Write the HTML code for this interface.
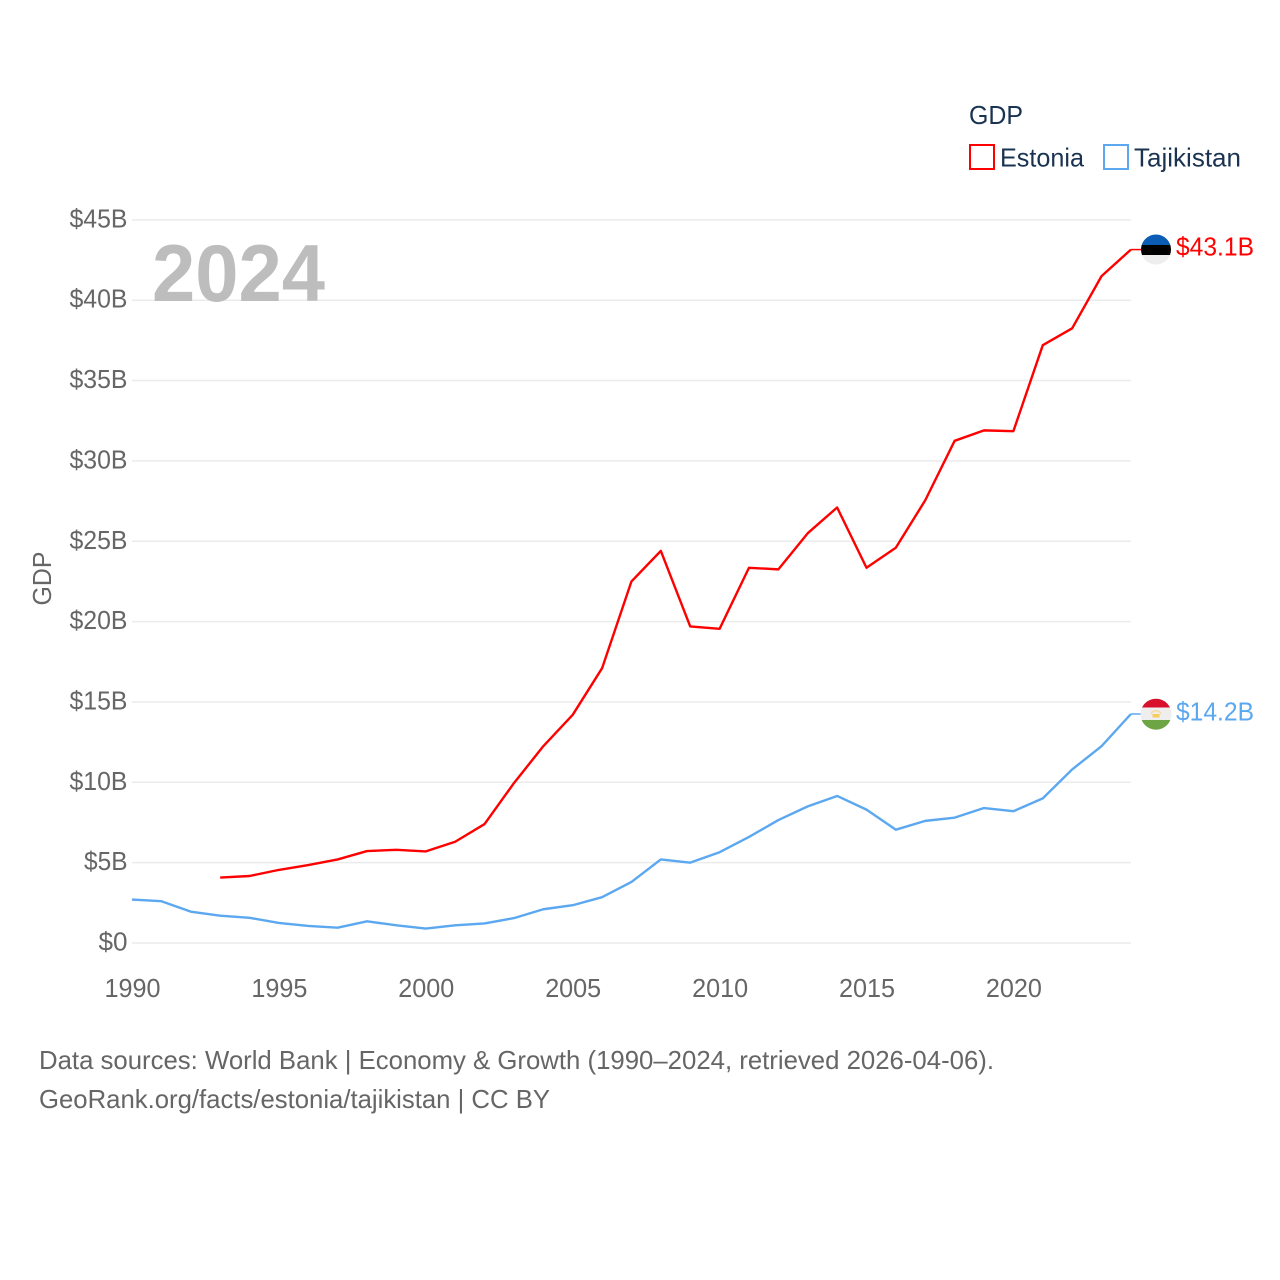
<!DOCTYPE html>
<html lang="en">
<head>
<meta charset="utf-8">
<title>GDP: Estonia and Tajikistan</title>
<style>
html,body{margin:0;padding:0;background:#fff;}
svg{display:block;font-family:"Liberation Sans",sans-serif;}
</style>
</head>
<body>
<svg id="chart" width="1280" height="1280" viewBox="0 0 1280 1280" xmlns="http://www.w3.org/2000/svg">
  <defs>
    <clipPath id="clip-ee"><circle cx="1156" cy="249.5" r="15"/></clipPath>
    <clipPath id="clip-tj"><circle cx="1156" cy="714.2" r="15.5"/></clipPath>
  </defs>
  <rect width="1280" height="1280" fill="#fff"/>
  <g id="grid"></g>
  <g id="y-ticks"></g>
  <g id="x-ticks"></g>
  <text x="152" y="301" font-size="81" font-weight="700" fill="#bdbdbd" textLength="173" lengthAdjust="spacingAndGlyphs">2024</text>
  <text transform="translate(51,578.5) rotate(-90)" text-anchor="middle" font-size="26" fill="#666" textLength="54" lengthAdjust="spacingAndGlyphs">GDP</text>
  <path id="line-estonia" fill="none" stroke="#ff0000" stroke-width="2.4" stroke-linejoin="round"></path>
  <path id="line-tajikistan" fill="none" stroke="#5ba8f0" stroke-width="2.4" stroke-linejoin="round"></path>
  <line id="lead-estonia" stroke="#ff0000" stroke-width="1.5"></line>
  <line id="lead-tajikistan" stroke="#5ba8f0" stroke-width="1.5"></line>

  <g clip-path="url(#clip-ee)">
    <rect x="1140" y="234" width="32" height="11" fill="#0a5cb4"/>
    <rect x="1140" y="245" width="32" height="10" fill="#000"/>
    <rect x="1140" y="255" width="32" height="10" fill="#eeeeee"/>
  </g>
  <g clip-path="url(#clip-tj)">
    <rect x="1140" y="698" width="32" height="9.5" fill="#d8102e"/>
    <rect x="1140" y="707.5" width="32" height="12.5" fill="#eeeeee"/>
    <rect x="1140" y="720" width="32" height="10" fill="#6da544"/>
    <rect x="1152.5" y="714" width="7" height="3.5" fill="#f5cd5a"/>
    <path d="M1151 714 A5.5 5.5 0 0 1 1161 714" fill="none" stroke="#f7d9a0" stroke-width="1.5"/>
  </g>
  <text x="1176" y="255.5" font-size="26" fill="#ff0000" textLength="78" lengthAdjust="spacingAndGlyphs">$43.1B</text>
  <text x="1176" y="720.5" font-size="26" fill="#5ba8f0" textLength="78" lengthAdjust="spacingAndGlyphs">$14.2B</text>

  <g>
    <text x="969" y="124" font-size="26" fill="#1a3352" textLength="54" lengthAdjust="spacingAndGlyphs">GDP</text>
    <g>
      <rect x="970" y="145" width="24" height="24" fill="#fff" stroke="#ff0000" stroke-width="2"/>
      <text x="1000" y="166.5" font-size="26" fill="#1a3352" textLength="84" lengthAdjust="spacingAndGlyphs">Estonia</text>
    </g>
    <g>
      <rect x="1104" y="145" width="24" height="24" fill="#fff" stroke="#5ba8f0" stroke-width="2"/>
      <text x="1134" y="166.5" font-size="26" fill="#1a3352" textLength="107" lengthAdjust="spacingAndGlyphs">Tajikistan</text>
    </g>
  </g>

  <text x="39" y="1069" font-size="26" fill="#666" textLength="955" lengthAdjust="spacingAndGlyphs">Data sources: World Bank | Economy &amp; Growth (1990–2024, retrieved 2026-04-06).</text>
  <text x="39" y="1108" font-size="26" fill="#666" textLength="511" lengthAdjust="spacingAndGlyphs">GeoRank.org/facts/estonia/tajikistan | CC BY</text>
</svg>
<script>
var years = [1990,1991,1992,1993,1994,1995,1996,1997,1998,1999,2000,2001,2002,2003,2004,2005,2006,2007,2008,2009,2010,2011,2012,2013,2014,2015,2016,2017,2018,2019,2020,2021,2022,2023,2024];
var estonia = [null,null,null,4.07,4.17,4.55,4.85,5.2,5.72,5.8,5.7,6.3,7.4,9.95,12.25,14.2,17.1,22.5,24.4,19.7,19.55,23.35,23.25,25.5,27.1,23.35,24.6,27.55,31.25,31.9,31.85,37.2,38.25,41.5,43.15];
var tajikistan = [2.7,2.6,1.95,1.7,1.57,1.25,1.06,0.95,1.35,1.1,0.9,1.1,1.22,1.55,2.1,2.35,2.85,3.8,5.2,5.0,5.65,6.6,7.65,8.5,9.15,8.3,7.05,7.6,7.8,8.4,8.2,9.0,10.8,12.25,14.25];
var yTicks = [0,5,10,15,20,25,30,35,40,45];
var xTicks = [1990,1995,2000,2005,2010,2015,2020];

var SVG_NS = 'http://www.w3.org/2000/svg';
function xScale(year){ return 132 + (year - 1990) * 29.38; }
function yScale(value){ return 943 - value * 16.07; }

function buildPath(values){
  var d = '';
  var started = false;
  for (var i = 0; i < values.length; i++) {
    if (values[i] === null) continue;
    d += (started ? 'L' : 'M') + xScale(years[i]).toFixed(2) + ' ' + yScale(values[i]).toFixed(2);
    started = true;
  }
  return d;
}

var grid = document.getElementById('grid');
var yGroup = document.getElementById('y-ticks');
yTicks.forEach(function(t){
  var line = document.createElementNS(SVG_NS, 'line');
  
  
  line.setAttribute('x1', 132);
  line.setAttribute('x2', 1131);
  line.setAttribute('y1', yScale(t));
  line.setAttribute('y2', yScale(t));
  line.setAttribute('stroke', '#ebebeb');
  line.setAttribute('stroke-width', '1.5');
  grid.appendChild(line);

  var text = '$' + t + (t === 0 ? '' : 'B');
  var label = document.createElementNS(SVG_NS, 'text');
  
  
  label.setAttribute('x', 127.5);
  label.setAttribute('y', yScale(t) + 7.5);
  label.setAttribute('text-anchor', 'end');
  label.setAttribute('font-size', '26');
  label.setAttribute('fill', '#666');
  label.setAttribute('textLength', text.length * 14.5);
  label.setAttribute('lengthAdjust', 'spacingAndGlyphs');
  label.textContent = text;
  yGroup.appendChild(label);
});

var xGroup = document.getElementById('x-ticks');
xTicks.forEach(function(t){
  var label = document.createElementNS(SVG_NS, 'text');
  
  
  label.setAttribute('x', xScale(t) + 0.5);
  label.setAttribute('y', 997);
  label.setAttribute('text-anchor', 'middle');
  label.setAttribute('font-size', '26');
  label.setAttribute('fill', '#666');
  label.setAttribute('textLength', '56');
  label.setAttribute('lengthAdjust', 'spacingAndGlyphs');
  label.textContent = t;
  xGroup.appendChild(label);
});

document.getElementById('line-estonia').setAttribute('d', buildPath(estonia));
document.getElementById('line-tajikistan').setAttribute('d', buildPath(tajikistan));

function leader(id, values){
  var el = document.getElementById(id);
  var last = values[values.length - 1];
  el.setAttribute('x1', xScale(years[years.length - 1]));
  el.setAttribute('x2', 1142);
  el.setAttribute('y1', yScale(last));
  el.setAttribute('y2', yScale(last));
}
leader('lead-estonia', estonia);
leader('lead-tajikistan', tajikistan);
</script>
</body>
</html>
